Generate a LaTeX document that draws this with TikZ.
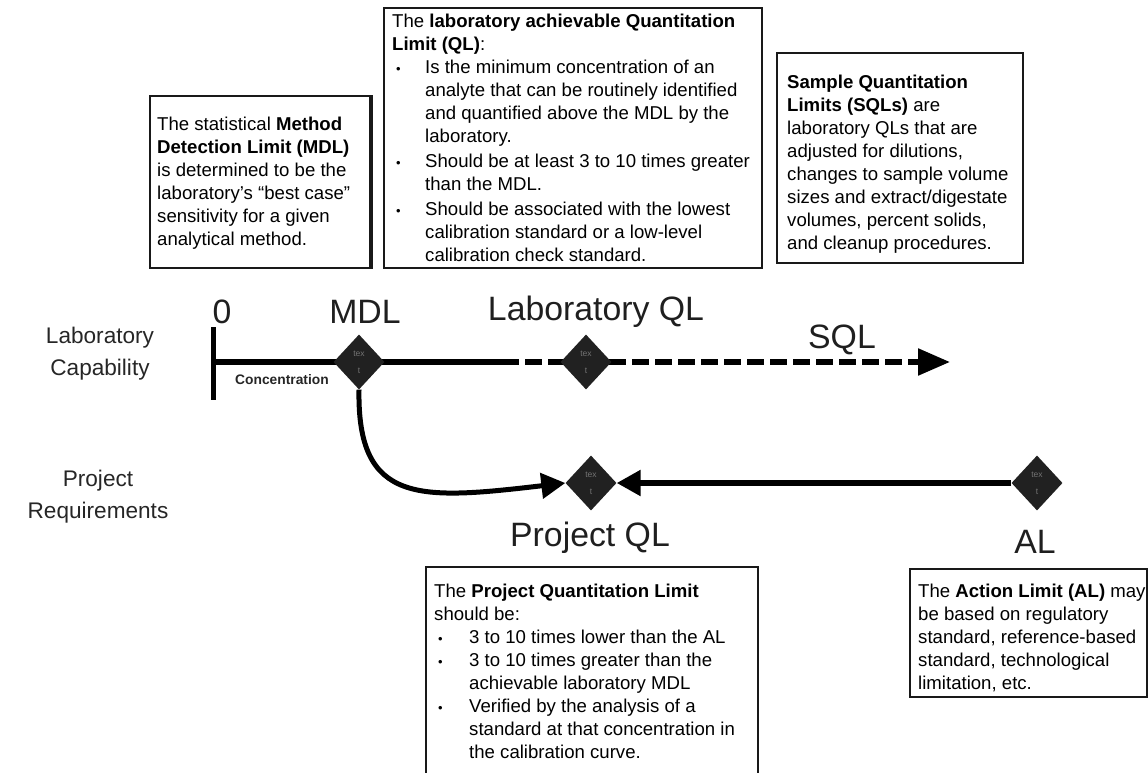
\documentclass[tikz,border=0pt]{standalone}
\usepackage{fontspec}
\setmainfont{Liberation Sans}
\usetikzlibrary{shapes.geometric,arrows.meta}
\newcommand\bulletmark{\hspace{4pt}{\fontsize{13}{13}\selectfont •}}
\begin{document}
\begin{tikzpicture}[x=1pt,y=-1pt,
  boxframe/.style={draw=black!90,line width=1.6pt},
  boxtext/.style={anchor=north west,inner sep=0pt,font=\fontsize{18.6}{23}\selectfont},
  biglabel/.style={font=\fontsize{33.8}{40}\selectfont,inner sep=0pt,text=black!88},
  sidelabel/.style={font=\fontsize{22.6}{32}\selectfont,align=center,inner sep=0pt,text=black!85},
  marker/.style={diamond,fill=black!87,minimum width=51pt,minimum height=55pt,inner sep=0pt,
    text=black!55,font=\fontsize{8.5}{17}\selectfont,align=center},
  axisline/.style={line width=5.5pt,draw=black},
  dashline/.style={axisline,dash pattern=on 17pt off 6pt},
  bigtip/.style={-{Triangle[length=32pt,width=26pt]}},
  smalltip/.style={-{Triangle[length=24pt,width=25pt]}}
]
\useasboundingbox (0,0) rectangle (1148,773);

% ---------- text boxes ----------
\draw[boxframe] (150,96) rectangle (372,268);
\draw[line width=3.2pt,black!90] (371,96) -- (371,268);
\node[boxtext] (mdltext) at (157,114) {\begin{tabular}{@{}l@{}}
The statistical \textbf{Method}\\
\textbf{Detection Limit (MDL)}\\
is determined to be the\\
laboratory's ``best case''\\
sensitivity for a given\\
analytical method.
\end{tabular}};

\draw[boxframe] (384,8) rectangle (762,268);
\node[boxtext] (qltext) at (392,11) {\begin{tabular}{@{}p{33pt}@{}l@{}}
\multicolumn{2}{@{}l@{}}{The \textbf{laboratory achievable Quantitation}}\\
\multicolumn{2}{@{}l@{}}{\textbf{Limit (QL)}:}\\
\bulletmark & Is the minimum concentration of an\\
 & analyte that can be routinely identified\\
 & and quantified above the MDL by the\\
 & laboratory.\\[2pt]
\bulletmark & Should be at least 3 to 10 times greater\\
 & than the MDL.\\[2pt]
\bulletmark & Should be associated with the lowest\\
 & calibration standard or a low-level\\
 & calibration check standard.
\end{tabular}};

\draw[boxframe] (777,53) rectangle (1023,263);
\node[boxtext] (sqltext) at (787,72) {\begin{tabular}{@{}l@{}}
\textbf{Sample Quantitation}\\
\textbf{Limits (SQLs)} are\\
laboratory QLs that are\\
adjusted for dilutions,\\
changes to sample volume\\
sizes and extract/digestate\\
volumes, percent solids,\\
and cleanup procedures.
\end{tabular}};

\draw[boxframe] (426,773) -- (426,567) -- (758,567) -- (758,773);
\node[boxtext] (pqltext) at (434,581) {\begin{tabular}{@{}p{35pt}@{}l@{}}
\multicolumn{2}{@{}l@{}}{The \textbf{Project Quantitation Limit}}\\
\multicolumn{2}{@{}l@{}}{should be:}\\
\bulletmark & 3 to 10 times lower than the AL\\
\bulletmark & 3 to 10 times greater than the\\
 & achievable laboratory MDL\\
\bulletmark & Verified by the analysis of a\\
 & standard at that concentration in\\
 & the calibration curve.
\end{tabular}};

\draw[boxframe] (910,569) rectangle (1147,697);
\node[boxtext] (altext) at (918,581) {\begin{tabular}{@{}l@{}}
The \textbf{Action Limit (AL)} may\\
be based on regulatory\\
standard, reference-based\\
standard, technological\\
limitation, etc.
\end{tabular}};

% ---------- side labels ----------
\node[sidelabel] (labcap) at (100,354) {Laboratory\\Capability};
\node[sidelabel] (projreq) at (98,497) {Project\\Requirements};

% ---------- concentration axis ----------
\coordinate (zero) at (213,362);
\coordinate (tickTop) at (213,327);
\coordinate (tickBot) at (213,400);
\coordinate (mdlC) at (359,362);
\coordinate (solidEnd) at (502,362);
\coordinate (lqlC) at (586,362);
\coordinate (sqlTip) at (950,362);
\coordinate (pqlC) at (591,483);
\coordinate (alC) at (1037,483);

\draw[line width=5pt] (tickTop) -- (tickBot);
\draw[axisline] (zero) -- (mdlC) -- (solidEnd);
\draw[dashline] (solidEnd) -- (lqlC);
\draw[dashline,bigtip] (lqlC) -- (sqlTip);

\node[marker] (mdl) at (mdlC) {tex\\t};
\node[marker] (lql) at (lqlC) {tex\\t};
\node[marker] (pql) at (pqlC) {tex\\t};
\node[marker] (al) at (alC) {tex\\t};

\draw[axisline,smalltip] (al.west) -- (pql.east);
\draw[line width=5pt,smalltip] (mdl.south) .. controls (357,505) and (420,500) .. (pql.west);

% ---------- labels ----------
\node[biglabel] (zerolab) at (222,312) {0};
\node[biglabel] (mdllab) at (365,312) {MDL};
\node[biglabel] (lqllab) at (596,312) {Laboratory QL};
\node[biglabel] (sqllab) at (842,340) {SQL};
\node[biglabel] (pqllab) at (590,538) {Project QL};
\node[biglabel] (allab) at (1035,542) {AL};
\node[font=\bfseries\fontsize{13.8}{16}\selectfont,inner sep=0pt,text=black!85] (conc) at (282,380) {Concentration};
\end{tikzpicture}
\end{document}
